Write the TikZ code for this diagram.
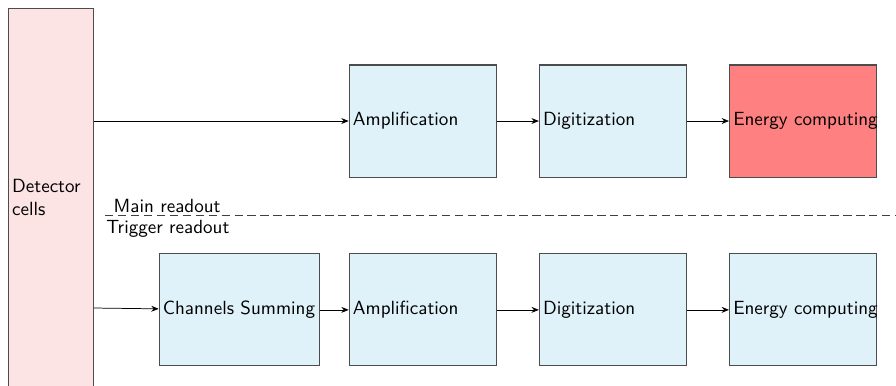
\documentclass[tikz,border=0pt]{standalone}
\usepackage{tikz}
\usetikzlibrary{positioning,arrows.meta}
\definecolor{blockblue}{RGB}{223,242,250}
\definecolor{cellpink}{RGB}{253,228,228}
\definecolor{energyred}{RGB}{255,128,128}
\hyphenpenalty=10000

\begin{document}
\begin{tikzpicture}[
			font=\sffamily\fontsize{10.3}{12.4}\selectfont,
			node distance=0.8cm,
			block/.style={
				draw=black!70,
				line width=0.55pt,
				fill=blockblue,
				align=left,
				text width=2.793cm-4pt,
				minimum height=2.128cm,
				inner sep=2pt
			},
			arrow/.style={-{Stealth[length=4pt,width=3.2pt]}}
			]
			
			\clip (0,0) rectangle (17.02,-7.315);
			
			\node[draw=black!70,line width=0.55pt,fill=cellpink,align=left,inner sep=2pt,
				text width=1.615cm-4pt,minimum height=7.18cm,anchor=north west]
				(cells) at (0.152,-0.152) {Detector\\cells};
			
			% main readout chain
			\node[block] (amp1) at (8.03,-2.299) {Amplification};
			\node[block,right=of amp1] (dig1) {Digitization};
			\node[block,fill=energyred,right=of dig1] (en1) {Energy~computing};
			
			% trigger readout chain
			\node[block,below=1.44cm of amp1] (amp2) {Amplification};
			\node[block,below=1.44cm of dig1] (dig2) {Digitization};
			\node[block,below=1.44cm of en1] (en2) {Energy~computing};
			\node[block,text width=3.04cm-4pt,left=0.55cm of amp2] (sum) {Channels Summing};
			
			\draw[arrow] (cells.east |- amp1) -- (amp1);
			\draw[arrow] (amp1) -- (dig1);
			\draw[arrow] (dig1) -- (en1);
			
			\draw[arrow] ([yshift=1pt]cells.east |- sum) -- (sum);
			\draw[arrow] (sum) -- (amp2);
			\draw[arrow] (amp2) -- (dig2);
			\draw[arrow] (dig2) -- (en2);
			
			% split between the two readouts
			\coordinate (split) at (1.995,-4.085);
			\coordinate (splitend) at (17.1,-4.085);
			\draw[black!75,dash pattern=on 4.5pt off 2.5pt] (split) -- (splitend);
			\node[anchor=south west,inner xsep=0.5pt,inner ysep=1pt] (mainlbl) at ([xshift=4pt]split) {Main readout};
			\node[anchor=north west,inner xsep=0.5pt,inner ysep=2.5pt] (triglbl) at (split) {Trigger readout};
			
		\end{tikzpicture}
\end{document}
